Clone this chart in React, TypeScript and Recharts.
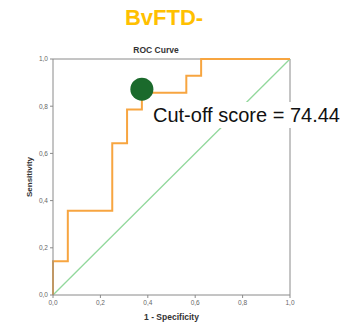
import React from 'react';
import { ComposedChart, Line, XAxis, YAxis, ReferenceLine, ReferenceDot } from 'recharts';

// ROC curve points (1 - specificity, sensitivity)
const rocFpr = [0, 0, 0.0625, 0.25, 0.3125, 0.375, 0.5625, 0.625, 1];
const rocTpr = [0, 0.143, 0.357, 0.643, 0.786, 0.857, 0.929, 1, 1];

// reference diagonal
const diagX = [0, 1];
const diagY = [0, 1];

const axisTicks = [0, 0.2, 0.4, 0.6, 0.8, 1];

const cutoffPoint = { x: 0.375, y: 0.872 };
const cutoffLabel = 'Cut-off score = 74.44';
const title = 'BvFTD-';

const rocData = rocFpr.map((x, i) => ({ x, y: rocTpr[i] }));
const diagData = diagX.map((x, i) => ({ x, y: diagY[i] }));

const font = '"Liberation Sans", Arial, Helvetica, sans-serif';
const fmt = (v: number) => v.toFixed(1).replace('.', ',');

export default function App() {
  return (
    <div style={{ position: 'absolute', left: 0, top: 0, width: 341, height: 323, background: '#fff', fontFamily: font }}>
      <div style={{ position: 'absolute', left: 0, width: 328, top: 5, textAlign: 'center', fontSize: 22, fontWeight: 700, color: '#ffc000' }}>
        {title}
      </div>
      <div style={{ position: 'absolute', left: 106, width: 100, top: 45, textAlign: 'center', fontSize: 8.5, fontWeight: 700, color: '#333' }}>
        ROC Curve
      </div>

      <ComposedChart
        width={341}
        height={323}
        margin={{ top: 59, right: 51, bottom: 12, left: 23 }}
        style={{ position: 'absolute', left: 0, top: 0 }}
      >
        <XAxis
          type="number"
          dataKey="x"
          domain={[0, 1]}
          ticks={axisTicks}
          tickFormatter={fmt}
          height={16}
          stroke="#8a8a8a"
          tickSize={3}
          tick={{ fontSize: 6.5, fill: '#666', fontFamily: font }}
          label={{ value: '1 - Specificity', position: 'insideBottom', offset: -9, fontSize: 8.5, fontWeight: 700, fill: '#333', fontFamily: font }}
        />
        <YAxis
          type="number"
          dataKey="y"
          domain={[0, 1]}
          ticks={axisTicks}
          tickFormatter={fmt}
          width={30}
          stroke="#8a8a8a"
          tickSize={3}
          tick={{ fontSize: 6.5, fill: '#666', fontFamily: font }}
          label={{ value: 'Sensitivity', angle: -90, position: 'insideLeft', offset: 6, style: { textAnchor: 'middle' }, fontSize: 8, fontWeight: 700, fill: '#333', fontFamily: font }}
        />
        <ReferenceLine y={1} stroke="#8a8a8a" />
        <ReferenceLine x={1} stroke="#8a8a8a" />
        <Line
          data={diagData}
          dataKey="y"
          type="linear"
          stroke="#92d89c"
          strokeWidth={1.3}
          dot={false}
          isAnimationActive={false}
        />
        <Line
          data={rocData}
          dataKey="y"
          type="stepAfter"
          stroke="#f7a540"
          strokeWidth={2}
          dot={false}
          isAnimationActive={false}
        />
        <ReferenceDot x={cutoffPoint.x} y={cutoffPoint.y} r={11.5} fill="#1b6a2c" stroke="none" />
      </ComposedChart>

      <div style={{ position: 'absolute', left: 150, top: 102, width: 191, height: 26, background: '#fff', fontSize: 20, color: '#111', lineHeight: '26px', paddingLeft: 3, boxSizing: 'border-box', whiteSpace: 'nowrap' }}>
        {cutoffLabel}
      </div>
    </div>
  );
}
